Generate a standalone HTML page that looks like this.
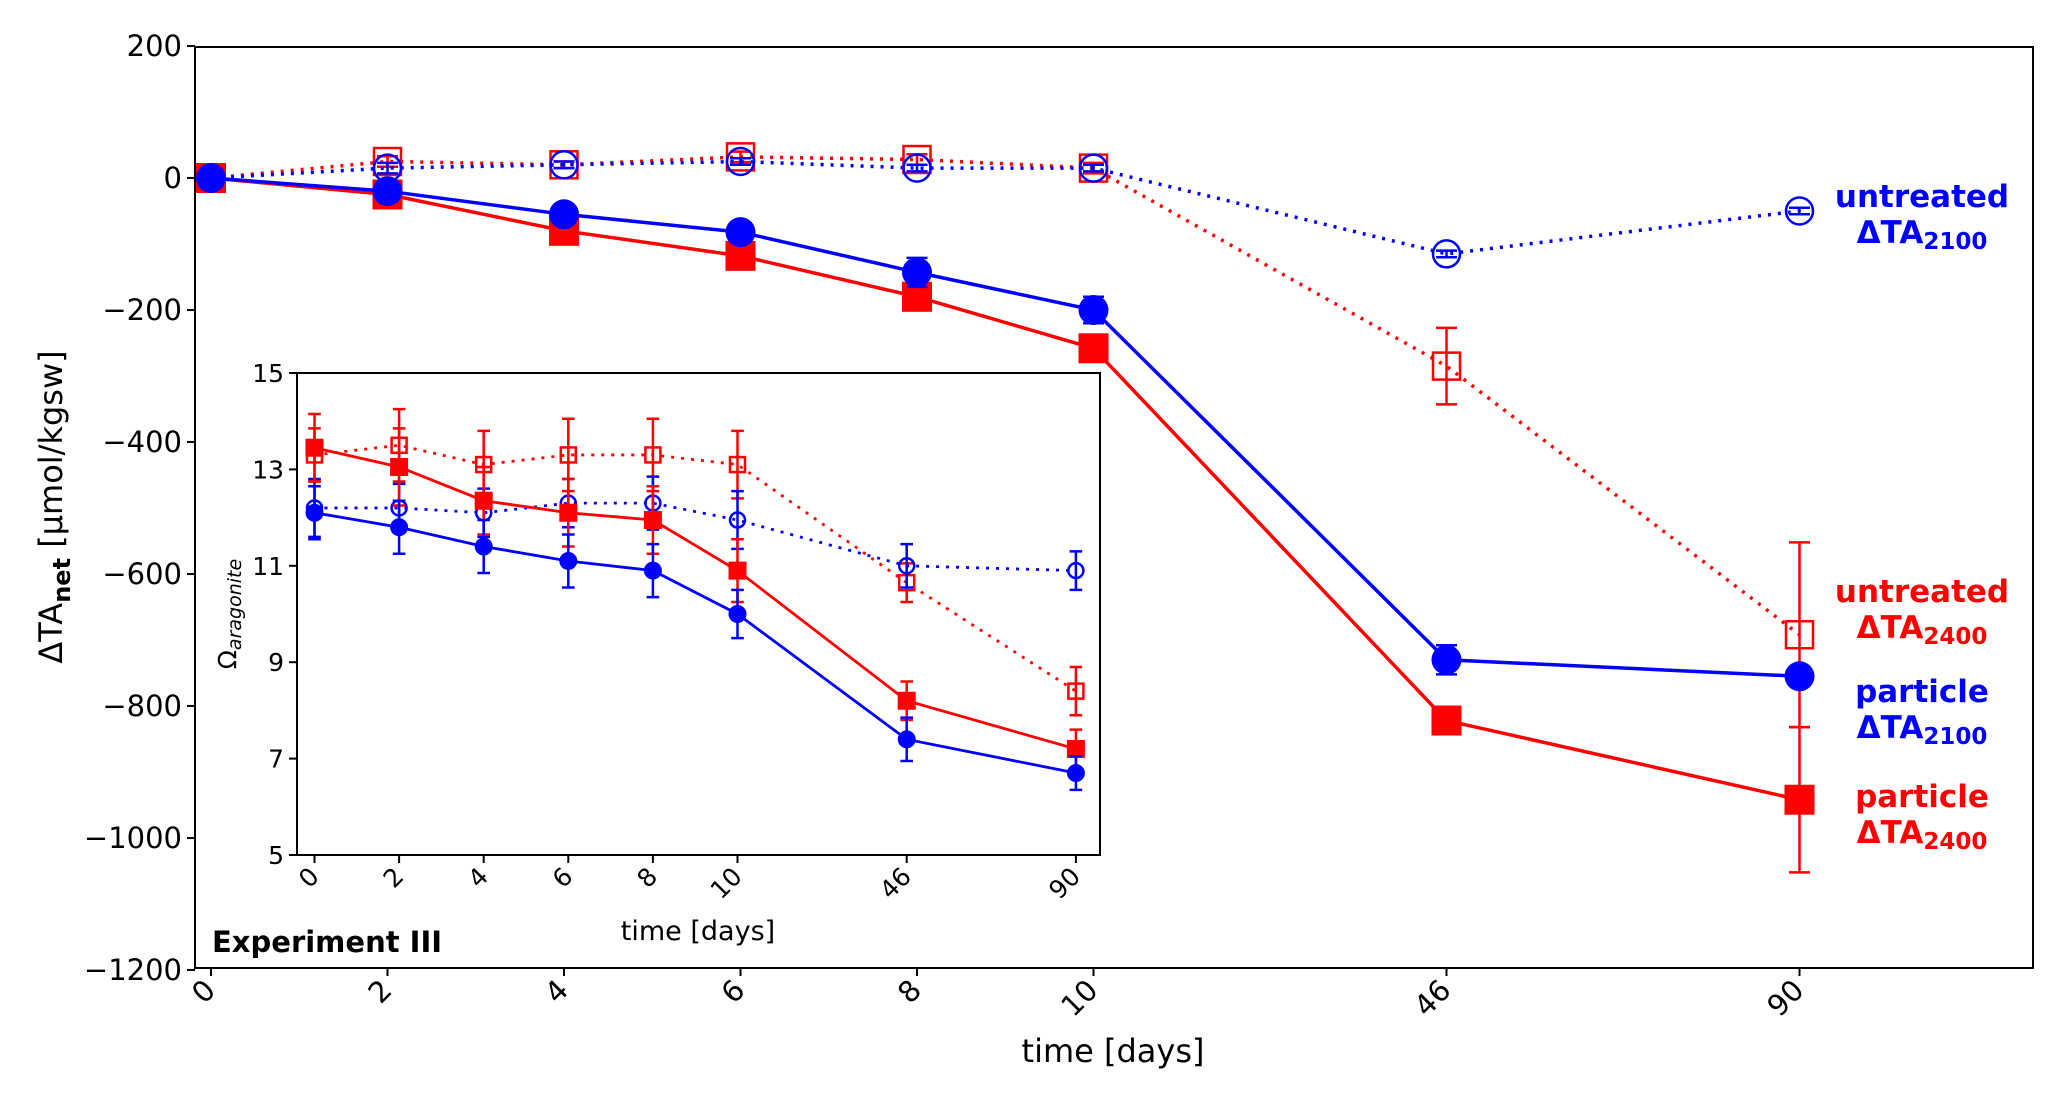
<!DOCTYPE html>
<html><head><meta charset="utf-8"><style>
body{margin:0;background:#fff}
svg{display:block;font-family:"DejaVu Sans","Liberation Sans",sans-serif}
</style></head><body>
<svg id="c" width="2067" height="1105" viewBox="0 0 2067 1105"></svg>
<script>
const xCats=["0","2","4","6","8","10","46","90"];
const xIdx=[0,1,2,3,4,5,7,9];
const yTicks=[200,0,-200,-400,-600,-800,-1000,-1200];
const partic2100=[0,-20,-55,-82,-143,-200,-730,-755];
const partic2100Err=[5,8,10,10,22,20,22,8];
const partic2400=[0,-25,-80,-118,-180,-258,-822,-942];
const partic2400Err=[5,8,10,10,12,12,12,110];
const untr2100=[0,15,20,25,15,15,-115,-50];
const untr2100Err=[3,8,5,5,5,5,5,5];
const untr2400=[0,25,20,32,28,15,-285,-692];
const untr2400Err=[3,8,5,8,8,8,58,140];
const inTicks=[5,7,9,11,13,15];
const inP2100=[12.1,11.8,11.4,11.1,10.9,10.0,7.4,6.7];
const inP2100Err=[0.55,0.55,0.55,0.55,0.55,0.5,0.45,0.35];
const inP2400=[13.45,13.05,12.35,12.1,11.95,10.9,8.2,7.2];
const inP2400Err=[0.7,0.8,0.7,0.7,0.7,0.65,0.4,0.4];
const inU2100=[12.2,12.2,12.1,12.3,12.3,11.95,11.0,10.9];
const inU2100Err=[0.6,0.5,0.5,0.5,0.55,0.6,0.45,0.4];
const inU2400=[13.3,13.5,13.1,13.3,13.3,13.1,10.65,8.4];
const inU2400Err=[0.55,0.75,0.7,0.75,0.75,0.7,0.4,0.5];

const NS="http://www.w3.org/2000/svg";
const svg=document.getElementById('c');
function mk(t,a,p){const e=document.createElementNS(NS,t);for(const k in a)e.setAttribute(k,a[k]);(p||svg).appendChild(e);return e;}
const X=i=>211+xIdx[i]*176.5;
const Y=v=>178-v*0.66;
const IX=i=>314.5+xIdx[i]*84.6;
const IY=v=>855-(v-5)*48.2;

function series(name,g,vals,errs,fx,fy,color,dash,marker,size,lw){
  const grp=mk('g',{});
  
  
  g.appendChild(grp);
  const pts=vals.map((v,i)=>fx(i)+','+fy(v)).join(' ');
  const ln=mk('polyline',{points:pts,fill:'none',stroke:color,'stroke-width':lw,'stroke-dasharray':dash?dash:'none'},grp);
  
  
  vals.forEach((v,i)=>{
    const x=fx(i),y1=fy(v+errs[i]),y2=fy(v-errs[i]),cw=size*0.35;
    const eb=mk('path',{d:`M${x},${y1}V${y2}M${x-cw},${y1}H${x+cw}M${x-cw},${y2}H${x+cw}`,stroke:color,'stroke-width':2.5,fill:'none'},grp);
    
    
    const y=fy(v),r=size/2;let m;
    if(marker==='fc')m=mk('circle',{cx:x,cy:y,r:r,fill:color},grp);
    else if(marker==='oc')m=mk('circle',{cx:x,cy:y,r:r-1.5,fill:'none',stroke:color,'stroke-width':2.5},grp);
    else if(marker==='fs')m=mk('rect',{x:x-r,y:y-r,width:size,height:size,fill:color},grp);
    else m=mk('rect',{x:x-r+1.5,y:y-r+1.5,width:size-3,height:size-3,fill:'none',stroke:color,'stroke-width':2.5},grp);
    
    
  });
}
function txt(s,a,name,p){const t=mk('text',a,p);t.textContent=s;return t;}

const frame=mk('rect',{x:195,y:47,width:1838,height:921,fill:'none',stroke:'#000','stroke-width':2});

yTicks.forEach(v=>{mk('line',{x1:187,x2:195,y1:Y(v),y2:Y(v),stroke:'#000','stroke-width':2});
  txt(String(v).replace('-','\u2212'),{x:182,y:Y(v)+10,'font-size':29,'text-anchor':'end'},'y-tick-label');});
xCats.forEach((c,i)=>{mk('line',{x1:X(i),x2:X(i),y1:968,y2:976,stroke:'#000','stroke-width':2});
  txt(c,{x:X(i)+6,y:992,'font-size':29,'text-anchor':'end',transform:`rotate(-45 ${X(i)+6} 992)`},'x-tick-label');});
txt('time [days]',{x:1113,y:1062,'font-size':32,'text-anchor':'middle'},'x-axis-title');
const yt=txt('',{x:62,y:507,'font-size':32,'text-anchor':'middle',transform:'rotate(-90 62 507)'},'y-axis-title');
yt.innerHTML='ΔTA<tspan font-weight="bold" font-size="24" dy="8">net</tspan><tspan dy="-8"> [µmol/kgsw]</tspan>';

const main=mk('g',{});
series('untreated-2400',main,untr2400,untr2400Err,X,Y,'#ff0000','3,7','os',30,3.5);
series('untreated-2100',main,untr2100,untr2100Err,X,Y,'#0000ff','3,7','oc',30,3.5);
series('particle-2400',main,partic2400,partic2400Err,X,Y,'#ff0000','','fs',30,3.5);
series('particle-2100',main,partic2100,partic2100Err,X,Y,'#0000ff','','fc',30,3.5);

function lab(l1,l2,sub,col,y,name){
  txt(l1,{x:1922,y:y,'font-size':31,'font-weight':'bold',fill:col,'text-anchor':'middle'},name+'-line1');
  const t=txt('',{x:1922,y:y+36,'font-size':31,'font-weight':'bold',fill:col,'text-anchor':'middle'},name+'-line2');
  t.innerHTML=l2+'<tspan font-size="23" dy="6">'+sub+'</tspan>';
}
lab('untreated','ΔTA','2100','#0000ff',207,'label-untreated-2100');
lab('untreated','ΔTA','2400','#ff0000',602,'label-untreated-2400');
lab('particle','ΔTA','2100','#0000ff',702,'label-particle-2100');
lab('particle','ΔTA','2400','#ff0000',807,'label-particle-2400');
txt('Experiment III',{x:212,y:952,'font-size':29,'font-weight':'bold'},'experiment-label');

const ins=mk('g',{});
mk('rect',{x:297,y:373,width:803,height:482,fill:'#fff',stroke:'#000','stroke-width':2},ins);
inTicks.forEach(v=>{mk('line',{x1:289,x2:297,y1:IY(v),y2:IY(v),stroke:'#000','stroke-width':2},ins);
  txt(String(v),{x:284,y:IY(v)+9,'font-size':25,'text-anchor':'end'},'inset-y-tick-label',ins);});
xCats.forEach((c,i)=>{mk('line',{x1:IX(i),x2:IX(i),y1:855,y2:863,stroke:'#000','stroke-width':2},ins);
  txt(c,{x:IX(i)+6,y:878,'font-size':25,'text-anchor':'end',transform:`rotate(-45 ${IX(i)+6} 878)`},'inset-x-tick-label',ins);});
txt('time [days]',{x:698,y:940,'font-size':27,'text-anchor':'middle'},'inset-x-axis-title',ins);
const iyt=txt('',{x:236,y:614,'font-size':25,'text-anchor':'middle',transform:'rotate(-90 236 614)'},'inset-y-axis-title',ins);
iyt.innerHTML='Ω<tspan font-style="italic" font-size="19" dy="5">aragonite</tspan>';
series('inset-untreated-2400',ins,inU2400,inU2400Err,IX,IY,'#ff0000','3,7','os',18,2.8);
series('inset-untreated-2100',ins,inU2100,inU2100Err,IX,IY,'#0000ff','3,7','oc',18,2.8);
series('inset-particle-2400',ins,inP2400,inP2400Err,IX,IY,'#ff0000','','fs',18,2.8);
series('inset-particle-2100',ins,inP2100,inP2100Err,IX,IY,'#0000ff','','fc',18,2.8);
</script>
</body></html>
